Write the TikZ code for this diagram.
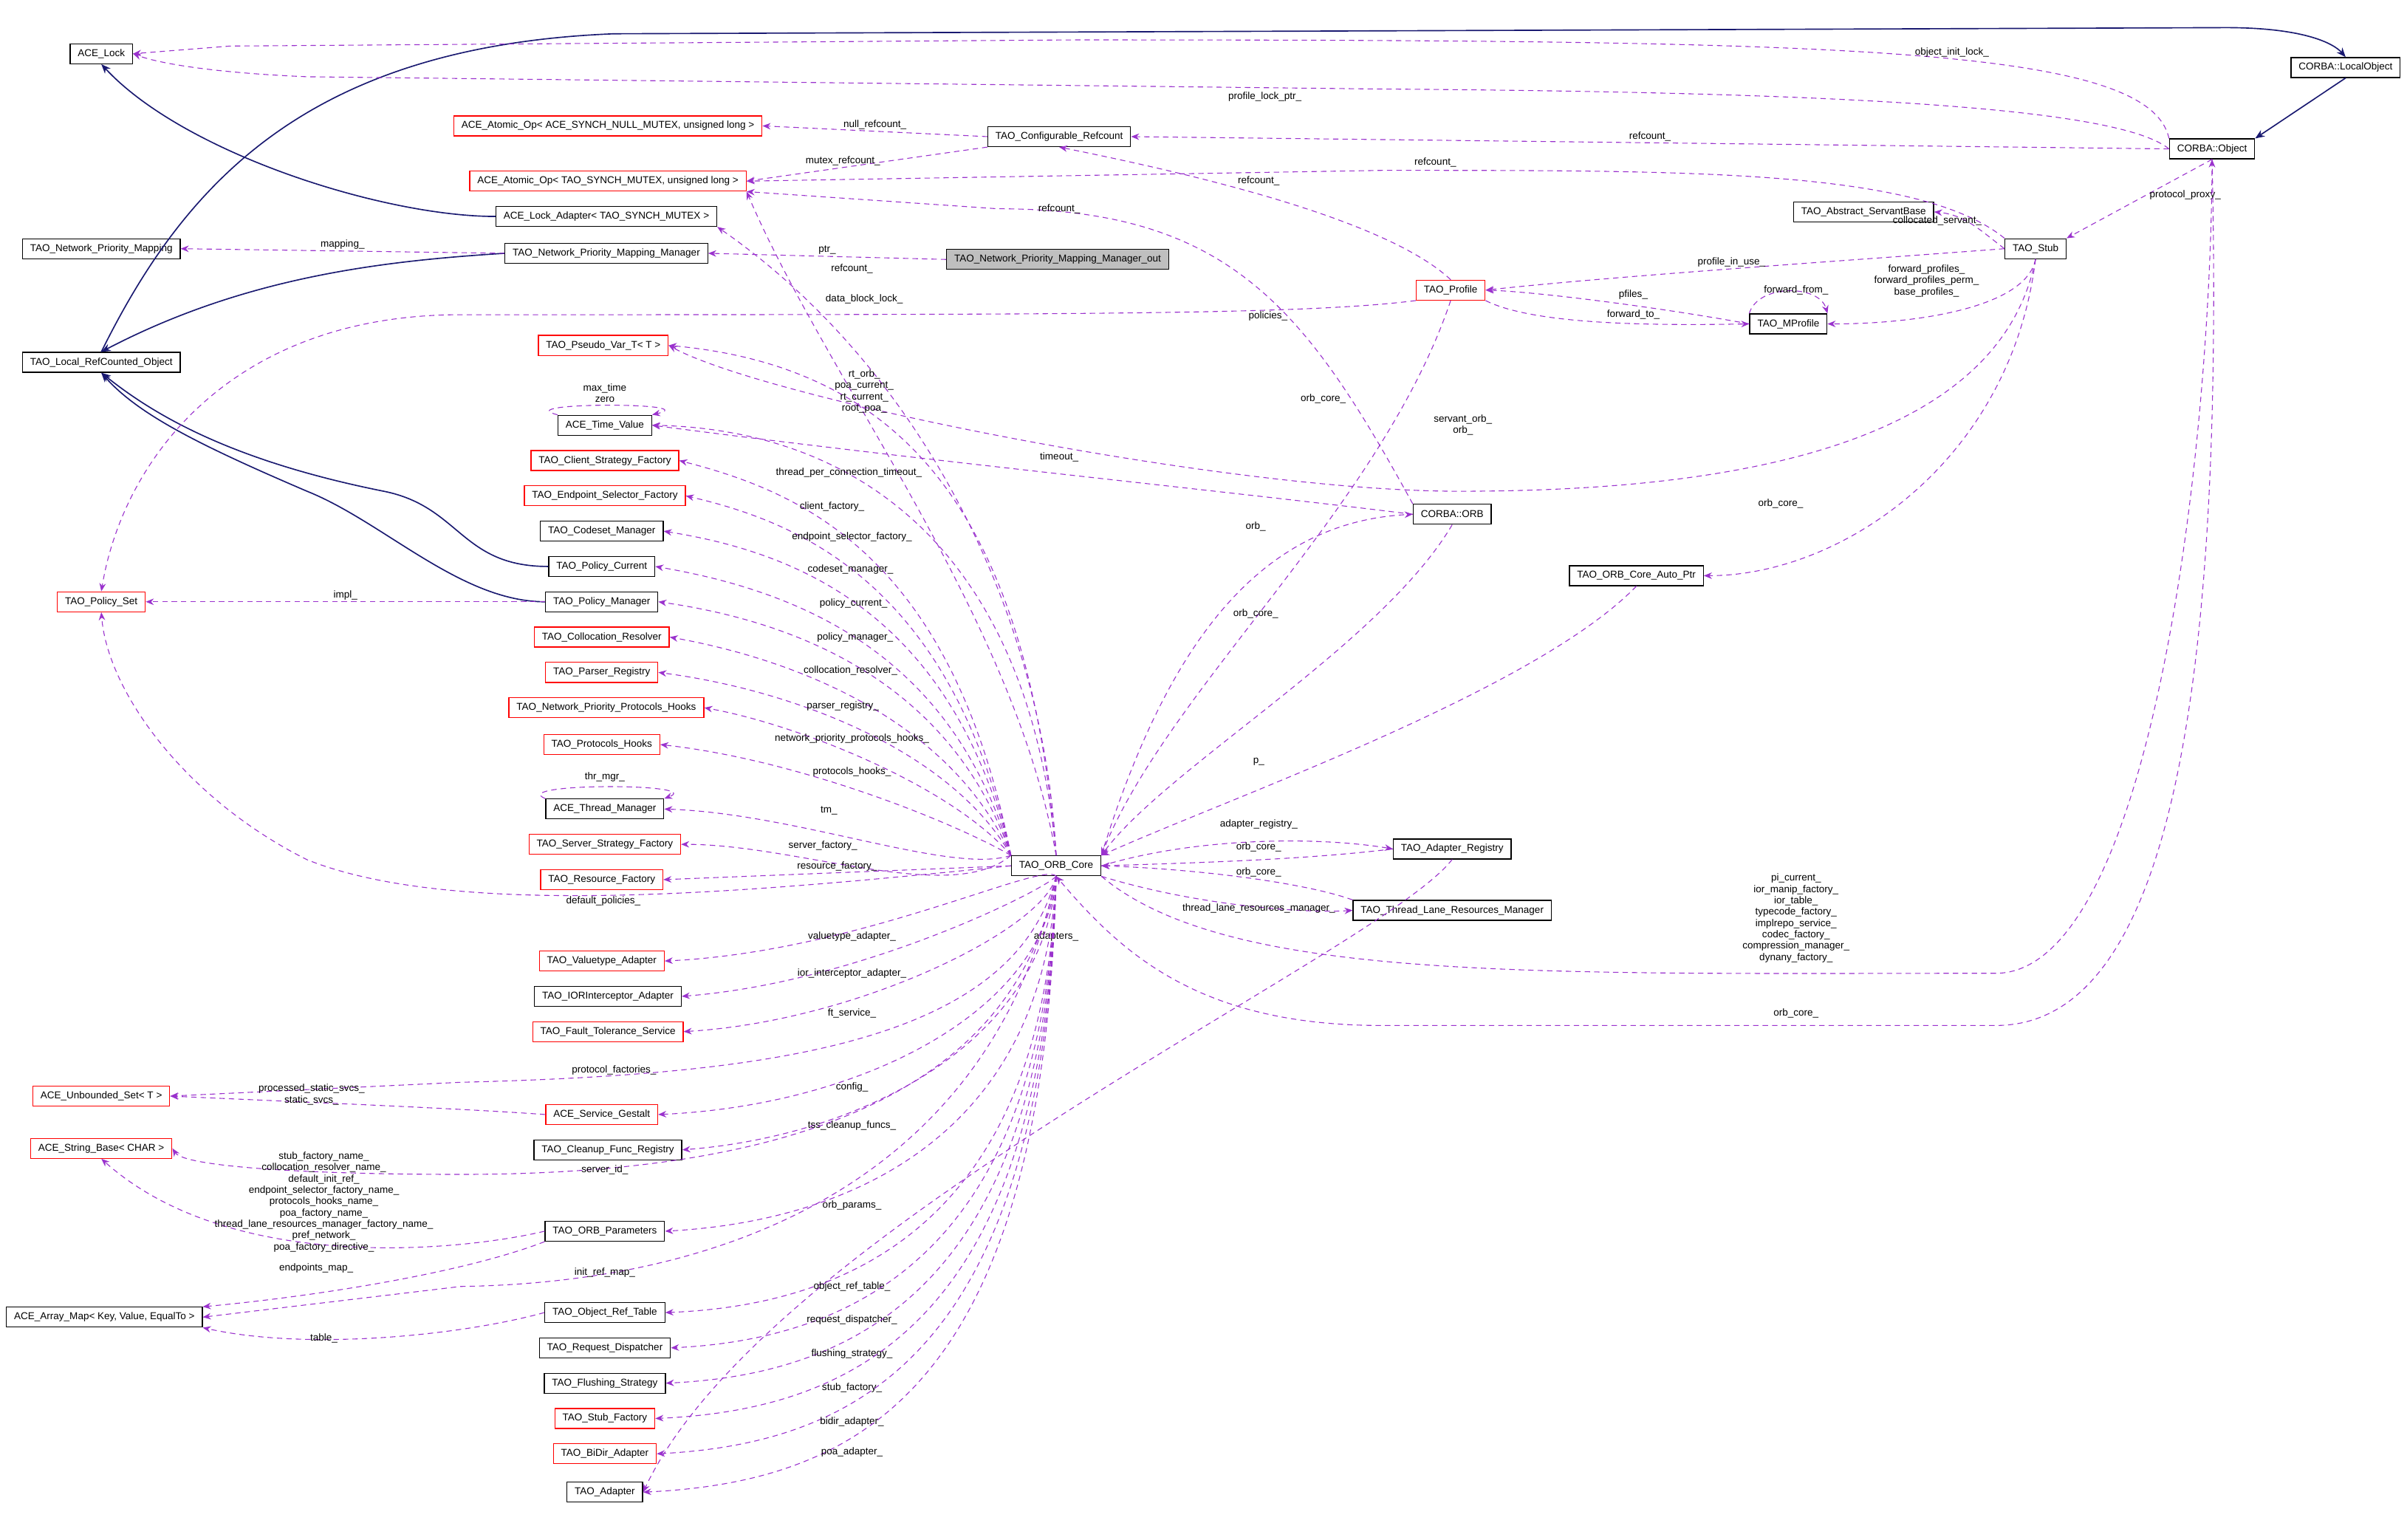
\documentclass[tikz,border=0pt]{standalone}
\usepackage{fontspec}
\setmainfont{Liberation Sans}
\usetikzlibrary{arrows.meta}
\definecolor{dep}{RGB}{154,50,205}
\definecolor{inh}{RGB}{25,25,112}
\definecolor{gr}{RGB}{191,191,191}
\newcommand{\lt}{\textless}
\newcommand{\gt}{\textgreater}
\tikzset{
 box/.style={draw=black,line width=0.35pt,minimum height=0.26cm,inner xsep=0.1cm,inner ysep=0pt,font=\fontsize{3.7}{4.4}\selectfont},
 rbox/.style={box,draw=red},
 dp/.style={draw=dep,dashed,dash pattern=on 2pt off 1.5pt,line width=0.3pt,-{Stealth[length=3pt,width=2.4pt]}},
 ih/.style={draw=inh,line width=0.45pt,-{Stealth[length=3.5pt,width=2.8pt]}},
 lb/.style={font=\fontsize{3.7}{4.2}\selectfont,inner sep=0pt,align=center},
}
\begin{document}
\begin{tikzpicture}[x=0.02cm,y=-0.02cm]
\useasboundingbox (0,0) rectangle (1568,1003);
% nodes
\node[box] (lock) at (66,35) {ACE\_Lock};
\node[box] (lobj) at (1528,44) {CORBA::LocalObject};
\node[box] (obj) at (1441,97) {CORBA::Object};
\node[box] (cref) at (690,89) {TAO\_Configurable\_Refcount};
\node[rbox] (aon) at (396,82) {ACE\_Atomic\_Op\lt{} ACE\_SYNCH\_NULL\_MUTEX, unsigned long \gt};
\node[rbox] (aot) at (396,118) {ACE\_Atomic\_Op\lt{} TAO\_SYNCH\_MUTEX, unsigned long \gt};
\node[box] (lad) at (395,141) {ACE\_Lock\_Adapter\lt{} TAO\_SYNCH\_MUTEX \gt};
\node[box] (asb) at (1214,138) {TAO\_Abstract\_ServantBase};
\node[box] (npm) at (66,162) {TAO\_Network\_Priority\_Mapping};
\node[box] (npmm) at (395,165) {TAO\_Network\_Priority\_Mapping\_Manager};
\node[box,fill=gr] (out) at (689,169) {TAO\_Network\_Priority\_Mapping\_Manager\_out};
\node[box] (stub) at (1326,162) {TAO\_Stub};
\node[rbox] (prof) at (945,189) {TAO\_Profile};
\node[box] (mprof) at (1165,211) {TAO\_MProfile};
\node[box] (lrc) at (66,236) {TAO\_Local\_RefCounted\_Object};
\node[rbox] (pvt) at (393,225) {TAO\_Pseudo\_Var\_T\lt{} T \gt};
\node[box] (tv) at (394,277) {ACE\_Time\_Value};
\node[rbox] (csf) at (394,300) {TAO\_Client\_Strategy\_Factory};
\node[rbox] (esf) at (394,323) {TAO\_Endpoint\_Selector\_Factory};
\node[box] (csm) at (392,346) {TAO\_Codeset\_Manager};
\node[box] (pc) at (392,369) {TAO\_Policy\_Current};
\node[box] (pm) at (392,392) {TAO\_Policy\_Manager};
\node[rbox] (ps) at (66,392) {TAO\_Policy\_Set};
\node[rbox] (cr) at (392,415) {TAO\_Collocation\_Resolver};
\node[rbox] (pr) at (392,438) {TAO\_Parser\_Registry};
\node[rbox] (nph) at (395,461) {TAO\_Network\_Priority\_Protocols\_Hooks};
\node[rbox] (ph) at (392,485) {TAO\_Protocols\_Hooks};
\node[box] (tm) at (394,527) {ACE\_Thread\_Manager};
\node[rbox] (ssf) at (394,550) {TAO\_Server\_Strategy\_Factory};
\node[rbox] (rf) at (392,573) {TAO\_Resource\_Factory};
\node[rbox] (va) at (392,626) {TAO\_Valuetype\_Adapter};
\node[box] (iora) at (396,649) {TAO\_IORInterceptor\_Adapter};
\node[rbox] (fts) at (396,672) {TAO\_Fault\_Tolerance\_Service};
\node[rbox] (sg) at (392,726) {ACE\_Service\_Gestalt};
\node[box] (cfr) at (396,749) {TAO\_Cleanup\_Func\_Registry};
\node[box] (op) at (394,802) {TAO\_ORB\_Parameters};
\node[box] (ort) at (394,855) {TAO\_Object\_Ref\_Table};
\node[box] (rd) at (394,878) {TAO\_Request\_Dispatcher};
\node[box] (fs) at (394,901) {TAO\_Flushing\_Strategy};
\node[rbox] (sf) at (394,924) {TAO\_Stub\_Factory};
\node[rbox] (bda) at (394,947) {TAO\_BiDir\_Adapter};
\node[box] (ad) at (394,972) {TAO\_Adapter};
\node[rbox] (us) at (66,714) {ACE\_Unbounded\_Set\lt{} T \gt};
\node[rbox] (sb) at (66,748) {ACE\_String\_Base\lt{} CHAR \gt};
\node[box] (am) at (68,858) {ACE\_Array\_Map\lt{} Key, Value, EqualTo \gt};
\node[box] (orb) at (946,335) {CORBA::ORB};
\node[box] (cap) at (1066,375) {TAO\_ORB\_Core\_Auto\_Ptr};
\node[box] (core) at (688,564) {TAO\_ORB\_Core};
\node[box] (areg) at (946,553) {TAO\_Adapter\_Registry};
\node[box] (tlr) at (946,593) {TAO\_Thread\_Lane\_Resources\_Manager};
% inheritance
\draw[ih] (lobj.south) -- (obj.north east);
\draw[ih] (lrc.north) .. controls (120,120) and (200,30) .. (400,22) -- (1450,18) .. controls (1500,18) and (1520,28) .. (lobj.north);
\draw[ih] (lad.west) .. controls (250,141) and (120,100) .. (lock.south);
\draw[ih] (npmm.west) .. controls (250,170) and (160,180) .. (lrc.north);
\draw[ih] (pc.west) .. controls (300,369) and (300,330) .. (250,320) .. controls (150,300) and (100,270) .. (lrc.south);
\draw[ih] (pm.west) .. controls (300,392) and (250,340) .. (200,320) .. controls (130,290) and (90,270) .. (lrc.south);
% top area
\draw[dp] (obj.north west) .. controls (1400,30) and (1200,26) .. node[lb,pos=0.45,above=0.5pt]{object\_init\_lock\_} (700,26) -- (150,30) -- (lock.east);
\draw[dp] (obj.west) .. controls (1380,70) and (1200,60) .. (900,58) -- (200,50) .. controls (130,47) and (100,40) .. (lock.east);
\node[lb] at (824,63) {profile\_lock\_ptr\_};
\draw[dp] (obj.west) -- node[lb,above=0.5pt,pos=0.5]{refcount\_} (cref.east);
\draw[dp] (obj.south) -- node[lb,right=1pt,pos=0.45]{protocol\_proxy\_} (stub.north east);
\draw[dp] (cref.west) -- node[lb,above=0.5pt]{null\_refcount\_} (aon.east);
\draw[dp] (cref.south west) -- node[lb,above=0.5pt,pos=0.6]{mutex\_refcount\_} (aot.east);
\draw[dp] (stub.north west) .. controls (1250,110) and (1100,111) .. (900,111) -- (aot.east);
\node[lb] at (935,106) {refcount\_};
\draw[dp] (prof.north) .. controls (900,140) and (760,110) .. (cref.south);
\node[lb] at (820,118) {refcount\_};
\draw[dp] (orb.north west) .. controls (850,200) and (800,136) .. (650,136) -- (aot.south east);
\node[lb] at (690,136) {refcount\_};
\draw[dp] (core.north) .. controls (660,400) and (540,250) .. (aot.south east);
\node[lb] at (555,175) {refcount\_};
\draw[dp] (stub.west) .. controls (1290,150) and (1280,140) .. (asb.east);
\node[lb] at (1262,144) {collocated\_servant\_};
\draw[dp] (npmm.west) -- node[lb,above=0.5pt]{mapping\_} (npm.east);
\draw[dp] (out.west) -- node[lb,above=0.5pt]{ptr\_} (npmm.east);
\draw[dp] (stub.west) .. controls (1200,170) and (1050,180) .. node[lb,above=0.5pt,pos=0.5]{profile\_in\_use\_} (prof.east);
\draw[dp] (mprof.west) .. controls (1080,200) and (1000,190) .. (prof.east);
\node[lb] at (1064,192) {pfiles\_};
\draw[dp] (prof.south east) .. controls (1000,212) and (1080,212) .. (mprof.west);
\node[lb] at (1064,205) {forward\_to\_};
\draw[dp] (mprof.north west) .. controls (1145,185) and (1185,185) .. (mprof.north east);
\node[lb] at (1170,189) {forward\_from\_};
\draw[dp] (stub.south) .. controls (1320,200) and (1250,211) .. (mprof.east);
\node[lb] at (1255,183) {forward\_profiles\_\\forward\_profiles\_perm\_\\base\_profiles\_};
\draw[dp] (core.north) .. controls (680,400) and (600,240) .. (lad.south east);
\node[lb] at (563,195) {data\_block\_lock\_};
\draw[dp] (prof.south west) .. controls (850,205) and (700,205) .. (300,205) .. controls (150,205) and (80,300) .. (ps.north);
\node[lb] at (826,206) {policies\_};
\draw[dp] (stub.south) .. controls (1300,300) and (1100,320) .. (950,320) .. controls (800,320) and (500,260) .. (pvt.east);
\node[lb] at (953,277) {servant\_orb\_\\orb\_};
\draw[dp] (prof.south) .. controls (900,330) and (760,450) .. (core.north east);
\node[lb] at (862,260) {orb\_core\_};
% ORB related
\draw[dp] (core.north east) .. controls (760,420) and (820,340) .. (orb.west);
\node[lb] at (818,343) {orb\_};
\draw[dp] (orb.south) .. controls (900,420) and (760,500) .. (core.north east);
\node[lb] at (818,400) {orb\_core\_};
\draw[dp] (orb.west) .. controls (800,320) and (600,300) .. (tv.east);
\node[lb] at (690,298) {timeout\_};
\draw[dp] (stub.south) .. controls (1310,300) and (1200,375) .. (cap.east);
\node[lb] at (1160,328) {orb\_core\_};
\draw[dp] (cap.south) .. controls (1000,450) and (800,520) .. (core.north east);
\node[lb] at (820,496) {p\_};
\draw[dp] (core.east) .. controls (780,545) and (860,545) .. (areg.west);
\node[lb] at (820,537) {adapter\_registry\_};
\draw[dp] (areg.west) .. controls (850,560) and (780,562) .. (core.east);
\node[lb] at (820,552) {orb\_core\_};
\draw[dp] (tlr.north west) .. controls (850,575) and (780,566) .. (core.east);
\node[lb] at (820,568) {orb\_core\_};
\draw[dp] (core.south east) .. controls (780,590) and (850,595) .. (tlr.west);
\node[lb] at (820,592) {thread\_lane\_resources\_manager\_};
\draw[dp] (areg.south) .. controls (900,620) and (500,800) .. (ad.east);
\node[lb] at (688,610) {adapters\_};
\draw[dp] (core.south east) .. controls (800,640) and (1000,634) .. (1300,634) .. controls (1400,634) and (1440,300) .. (obj.south);
\node[lb] at (1170,598) {pi\_current\_\\ior\_manip\_factory\_\\ior\_table\_\\typecode\_factory\_\\implrepo\_service\_\\codec\_factory\_\\compression\_manager\_\\dynany\_factory\_};
\draw[dp] (obj.south) .. controls (1450,500) and (1400,668) .. (1300,668) -- (900,668) .. controls (780,668) and (730,620) .. (core.south);
\node[lb] at (1170,660) {orb\_core\_};
% fan up
\draw[dp] (core.north) .. controls (670,350) and (600,240) .. (pvt.east);
\node[lb] at (563,255) {rt\_orb\_\\poa\_current\_\\rt\_current\_\\root\_poa\_};
\draw[dp] (tv.north west) .. controls (330,262) and (460,262) .. (tv.north east);
\node[lb] at (394,256) {max\_time\\zero};
\draw[dp] (core.north) .. controls (670,360) and (560,280) .. (tv.east);
\node[lb] at (553,308) {thread\_per\_connection\_timeout\_};
\foreach \t/\l/\lx/\ly/\cy in {csf/client\_factory\_/542/330/320,esf/endpoint\_selector\_factory\_/555/350/340,csm/codeset\_manager\_/554/371/360,pc/policy\_current\_/556/393/385,pm/policy\_manager\_/557/415/405,cr/collocation\_resolver\_/554/437/430,pr/parser\_registry\_/549/460/450,nph/network\_priority\_protocols\_hooks\_/555/481/472,ph/protocols\_hooks\_/555/503/495,tm/tm\_/540/528/530,ssf/server\_factory\_/536/551/550}{
 \draw[dp] (core.north west) .. controls (620,\cy+40) and (520,\cy) .. (\t.east);
 \node[lb] at (\lx,\ly) {\l};
}
\draw[dp] (tm.north west) .. controls (330,510) and (460,510) .. (tm.north east);
\node[lb] at (394,506) {thr\_mgr\_};
\draw[dp] (core.west) -- node[lb,above=0.5pt,pos=0.5]{resource\_factory\_} (rf.east);
\draw[dp] (core.west) .. controls (500,580) and (300,600) .. (200,560) .. controls (120,520) and (70,450) .. (ps.south);
\node[lb] at (393,587) {default\_policies\_};
\draw[dp] (pm.west) -- node[lb,above=0.5pt]{impl\_} (ps.east);
% fan down
\foreach \t/\l/\lx/\ly/\cy in {va/valuetype\_adapter\_/555/610/620,iora/ior\_interceptor\_adapter\_/555/634/640,fts/ft\_service\_/555/660/665,sg/config\_/555/708/720,cfr/tss\_cleanup\_funcs\_/555/733/740,op/orb\_params\_/555/785/795,ort/object\_ref\_table\_/555/838/850,rd/request\_dispatcher\_/555/860/872,fs/flushing\_strategy\_/555/882/895,sf/stub\_factory\_/555/904/918,bda/bidir\_adapter\_/555/926/940,ad/poa\_adapter\_/555/946/965}{
 \draw[dp] (core.south) .. controls (680,\cy-60) and (560,\cy) .. (\t.east);
 \node[lb] at (\lx,\ly) {\l};
}
\draw[dp] (core.south) .. controls (660,680) and (500,700) .. (300,705) -- (us.east);
\node[lb] at (400,697) {protocol\_factories\_};
\draw[dp] (sg.west) .. controls (300,722) and (200,718) .. (us.east);
\node[lb] at (203,713) {processed\_static\_svcs\_\\static\_svcs\_};
\draw[dp] (core.south) .. controls (660,720) and (500,765) .. (300,765) .. controls (200,765) and (120,760) .. (sb.east);
\node[lb] at (394,762) {server\_id\_};
\draw[dp] (op.west) .. controls (300,815) and (150,830) .. (sb.south);
\node[lb] at (211,783) {stub\_factory\_name\_\\collocation\_resolver\_name\_\\default\_init\_ref\_\\endpoint\_selector\_factory\_name\_\\protocols\_hooks\_name\_\\poa\_factory\_name\_\\thread\_lane\_resources\_manager\_factory\_name\_\\pref\_network\_\\poa\_factory\_directive\_};
\draw[dp] (op.south west) .. controls (300,830) and (200,845) .. (am.north east);
\node[lb] at (206,826) {endpoints\_map\_};
\draw[dp] (core.south) .. controls (650,750) and (500,835) .. (300,838) -- (am.east);
\node[lb] at (394,829) {init\_ref\_map\_};
\draw[dp] (ort.west) .. controls (300,870) and (200,880) .. (am.south east);
\node[lb] at (211,872) {table\_};
\end{tikzpicture}
\end{document}
